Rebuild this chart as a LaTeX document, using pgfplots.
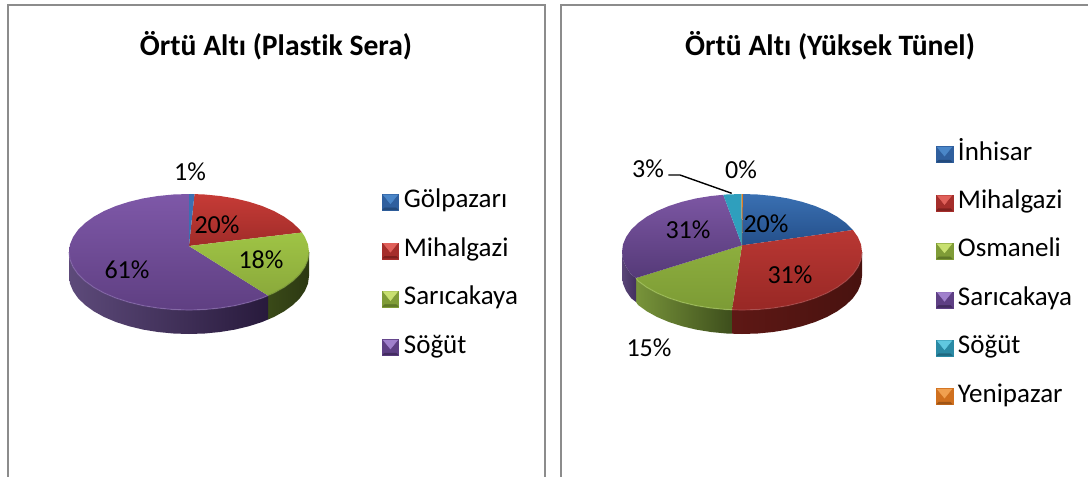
\documentclass[border=0pt]{standalone}
\usepackage{fontspec}
\setmainfont{Carlito}[Ligatures={NoCommon}]
\usepackage{pgfplots}
\pgfplotsset{compat=1.18}
\newcommand{\hx}[1]{\definecolor{#1}{HTML}{#1}}
\hx{3a4a18}\hx{2c3812}\hx{5d4a7a}\hx{43305f}\hx{281a3c}\hx{7e58a8}\hx{5f3f82}
\hx{c63b36}\hx{a02c29}\hx{9fc445}\hx{8aa93b}\hx{3c6fb2}\hx{8a6cb0}\hx{6f8c30}
\hx{2f5f9e}\hx{4a86c8}\hx{234a7c}\hx{a52e2b}\hx{e0605a}\hx{7e201e}\hx{7f9c37}
\hx{c8e070}\hx{5f7828}\hx{5e3f84}\hx{a080cc}\hx{432c60}\hx{5e1815}\hx{3a0e0c}
\hx{48120f}\hx{78943a}\hx{3d4e1c}\hx{5a4678}\hx{3a70b2}\hx{244f8a}\hx{b93733}
\hx{982825}\hx{8dae3e}\hx{7c9b35}\hx{7c56a3}\hx{553a78}\hx{2f9fbd}\hx{e07b20}
\hx{a8c860}\hx{b05050}\hx{2a8aa5}\hx{60c8e0}\hx{1f6880}\hx{d0701e}\hx{f0a050}\hx{a05515}
\newcommand{\swatchimg}[3]{\addlegendimage{legend image code/.code={%
  \fill[#1] (0pt,-8pt) rectangle (16.5pt,8pt);
  \fill[#2] (1pt,7.5pt) -- (15.5pt,7.5pt) -- (8.25pt,-1.5pt) -- cycle;
  \fill[#3] (0.5pt,-7.5pt) -- (16pt,-7.5pt) -- (14pt,-5.5pt) -- (2.5pt,-5.5pt) -- cycle;}}}
\pgfplotsset{
  panel/.style={scale only axis, height=477pt, ymin=0, ymax=477, y dir=reverse,
    axis line style={draw=none}, xtick=\empty, ytick=\empty,
    title style={font=\bfseries\fontsize{29.6}{32}\selectfont, anchor=center},
    legend cell align=left,
    legend style={draw=none, fill=none, inner sep=0pt, outer sep=0pt, anchor=north west,
      font=\fontsize{27}{30}\selectfont, row sep=25.4pt,
      /tikz/every odd column/.append style={column sep=5pt},
      nodes={inner sep=0pt, text height=17pt, text depth=6pt}}},
  slice/.style={draw=none, mark=none, forget plot},
  frame/.style={color=black!45, line width=2pt, mark=none, forget plot},
  rim/.style={line width=1.2pt, mark=none, forget plot, opacity=0.55}
}
\tikzset{lab/.style={font=\fontsize{26}{30}\selectfont, inner sep=0pt}}
\begin{document}
\begin{tikzpicture}
\useasboundingbox (0,0) rectangle (1088pt,477pt);
\begin{axis}[panel, at={(0,0)}, anchor=south west, width=552pt, xmin=0, xmax=552,
  title={Örtü Altı (Plastik Sera)}, title style={at={(0.5,0.891)}},
  legend style={at={(0.692,0.6)}}]
\addplot[frame] coordinates {(8,480) (8,5) (545,5) (545,480)};
% side walls
\addplot[slice, left color=3a4a18, right color=2c3812] coordinates {(268,295.5) (273.9,293) (284.2,287.3) (292.9,281) (299.9,274.2) (304.9,267) (308,259.6) (309,252) (309,276) (308,283.6) (304.9,291) (299.9,298.2) (292.9,305) (284.2,311.3) (273.9,317) (268,319.5)} --cycle;
\addplot[slice, left color=5d4a7a, middle color=43305f, right color=281a3c] coordinates {(69,252) (70,259.6) (73.1,267) (78.1,274.2) (85.1,281) (93.8,287.3) (104.1,293) (115.9,298) (129,302.2) (143.1,305.6) (157.9,308) (173.3,309.5) (189,310) (204.7,309.5) (220.1,308) (234.9,305.6) (249,302.2) (262.1,298) (268,295.5) (268,319.5) (262.1,322) (249,326.2) (234.9,329.6) (220.1,332) (204.7,333.5) (189,334) (173.3,333.5) (157.9,332) (143.1,329.6) (129,326.2) (115.9,322) (104.1,317) (93.8,311.3) (85.1,305) (78.1,298.2) (73.1,291) (70,283.6) (69,276)} --cycle;
% top faces
\addplot[slice, top color=7e58a8, bottom color=5f3f82] coordinates {(189,246) (268,295.5) (262.1,298) (249,302.2) (234.9,305.6) (220.1,308) (204.7,309.5) (189,310) (173.3,309.5) (157.9,308) (143.1,305.6) (129,302.2) (115.9,298) (104.1,293) (93.8,287.3) (85.1,281) (78.1,274.2) (73.1,267) (70,259.6) (69,252) (70,244.4) (73.1,237) (78.1,229.8) (85.1,223) (93.8,216.7) (104.1,211) (115.9,206) (129,201.8) (143.1,198.4) (157.9,196) (173.3,194.5) (189,194)} --cycle;
\addplot[slice, top color=c63b36, bottom color=a02c29] coordinates {(189,246) (194.5,194.1) (204.7,194.5) (220.1,196) (234.9,198.4) (249,201.8) (262.1,206) (273.9,211) (284.2,216.7) (292.9,223) (299.9,229.8) (302,232.5)} --cycle;
\addplot[slice, top color=9fc445, bottom color=8aa93b] coordinates {(189,246) (302,232.5) (304.9,237) (308,244.4) (309,252) (308,259.6) (304.9,267) (299.9,274.2) (292.9,281) (284.2,287.3) (273.9,293) (268,295.5)} --cycle;
\addplot[slice, fill=3c6fb2] coordinates {(189,246) (189,194) (194.5,194.1)} --cycle;
% rims
\addplot[rim, color=8a6cb0] coordinates {(69,252) (70,259.6) (73.1,267) (78.1,274.2) (85.1,281) (93.8,287.3) (104.1,293) (115.9,298) (129,302.2) (143.1,305.6) (157.9,308) (173.3,309.5) (189,310) (204.7,309.5) (220.1,308) (234.9,305.6) (249,302.2) (262.1,298) (268,295.5)};
\addplot[rim, color=6f8c30] coordinates {(268,295.5) (273.9,293) (284.2,287.3) (292.9,281) (299.9,274.2) (304.9,267) (308,259.6) (309,252)};
% labels
\node[lab] at (axis cs:190,172) {1\%};
\node[lab] at (axis cs:217,225) {20\%};
\node[lab] at (axis cs:261,260) {18\%};
\node[lab] at (axis cs:127,270) {61\%};
% legend
\swatchimg{2f5f9e}{4a86c8}{234a7c}\addlegendentry{Gölpazarı}
\swatchimg{a52e2b}{e0605a}{7e201e}\addlegendentry{Mihalgazi}
\swatchimg{7f9c37}{c8e070}{5f7828}\addlegendentry{Sarıcakaya}
\swatchimg{5e3f84}{a080cc}{432c60}\addlegendentry{Söğüt}
\end{axis}
\begin{axis}[panel, at={(552pt,0)}, anchor=south west, width=536pt, xmin=552, xmax=1088,
  title={Örtü Altı (Yüksek Tünel)}, title style={at={(0.5187,0.891)}},
  legend style={at={(0.7165,0.7)}}]
\addplot[frame] coordinates {(561,480) (561,5) (1092,5)};
% side walls
\addplot[slice, left color=5e1815, middle color=3a0e0c, right color=48120f] coordinates {(732,309.7) (742,310) (757.7,309.5) (773.1,308) (787.9,305.6) (802,302.2) (815.1,298) (826.9,293) (837.2,287.3) (845.9,281) (852.9,274.2) (857.9,267) (861,259.6) (862,252) (862,276) (861,283.6) (857.9,291) (852.9,298.2) (845.9,305) (837.2,311.3) (826.9,317) (815.1,322) (802,326.2) (787.9,329.6) (773.1,332) (757.7,333.5) (742,334) (732,333.7)} --cycle;
\addplot[slice, left color=78943a, right color=3d4e1c] coordinates {(636,278) (638.1,281) (646.8,287.3) (657.1,293) (668.9,298) (682,302.2) (696.1,305.6) (710.9,308) (726.3,309.5) (732,309.7) (732,333.7) (726.3,333.5) (710.9,332) (696.1,329.6) (682,326.2) (668.9,322) (657.1,317) (646.8,311.3) (638.1,305) (636,302)} --cycle;
\addplot[slice, left color=5a4678, right color=43305f] coordinates {(622,252) (623,259.6) (626.1,267) (631.1,274.2) (636,278) (636,302) (631.1,298.2) (626.1,291) (623,283.6) (622,276)} --cycle;
% top faces
\addplot[slice, top color=3a70b2, bottom color=244f8a] coordinates {(742,245.3) (743,194) (757.7,194.5) (773.1,196) (787.9,198.4) (802,201.8) (815.1,206) (826.9,211) (837.2,216.7) (845.9,223) (852.9,230)} --cycle;
\addplot[slice, top color=b93733, bottom color=982825] coordinates {(742,245.3) (852.9,230) (857.9,237) (861,244.4) (862,252) (861,259.6) (857.9,267) (852.9,274.2) (845.9,281) (837.2,287.3) (826.9,293) (815.1,298) (802,302.2) (787.9,305.6) (773.1,308) (757.7,309.5) (742,310) (732,309.7)} --cycle;
\addplot[slice, top color=8dae3e, bottom color=7c9b35] coordinates {(742,245.3) (732,309.7) (726.3,309.5) (710.9,308) (696.1,305.6) (682,302.2) (668.9,298) (657.1,293) (646.8,287.3) (638.1,281) (636,278)} --cycle;
\addplot[slice, top color=7c56a3, bottom color=553a78] coordinates {(742,245.3) (636,278) (631.1,274.2) (626.1,267) (623,259.6) (622,252) (623,244.4) (626.1,237) (631.1,229.8) (638.1,223) (646.8,216.7) (657.1,211) (668.9,206) (682,201.8) (696.1,198.4) (710.9,196) (723.3,194.8)} --cycle;
\addplot[slice, fill=2f9fbd] coordinates {(742,245.3) (723.3,194.8) (726.3,194.5) (741.5,194)} --cycle;
\addplot[slice, fill=e07b20] coordinates {(742,245.3) (741.5,194) (743,194)} --cycle;
% rims
\addplot[rim, color=a8c860] coordinates {(636,278) (638.1,281) (646.8,287.3) (657.1,293) (668.9,298) (682,302.2) (696.1,305.6) (710.9,308) (726.3,309.5) (732,309.7)};
\addplot[rim, color=b05050] coordinates {(732,309.7) (742,310) (757.7,309.5) (773.1,308) (787.9,305.6) (802,302.2) (815.1,298) (826.9,293) (837.2,287.3) (845.9,281) (852.9,274.2) (857.9,267) (861,259.6) (862,252)};
% leader line
\addplot[color=black, line width=1.4pt, mark=none, forget plot] coordinates {(668.3,175) (680,175) (731.7,193.3)};
% labels
\node[lab] at (axis cs:648,169) {3\%};
\node[lab] at (axis cs:741,170) {0\%};
\node[lab] at (axis cs:766,224) {20\%};
\node[lab] at (axis cs:790,275) {31\%};
\node[lab] at (axis cs:688,230) {31\%};
\node[lab] at (axis cs:649,348) {15\%};
% legend
\swatchimg{2f5f9e}{4a86c8}{234a7c}\addlegendentry{İnhisar}
\swatchimg{a52e2b}{e0605a}{7e201e}\addlegendentry{Mihalgazi}
\swatchimg{7f9c37}{c8e070}{5f7828}\addlegendentry{Osmaneli}
\swatchimg{5e3f84}{a080cc}{432c60}\addlegendentry{Sarıcakaya}
\swatchimg{2a8aa5}{60c8e0}{1f6880}\addlegendentry{Söğüt}
\swatchimg{d0701e}{f0a050}{a05515}\addlegendentry{Yenipazar}
\end{axis}
\end{tikzpicture}
\end{document}
